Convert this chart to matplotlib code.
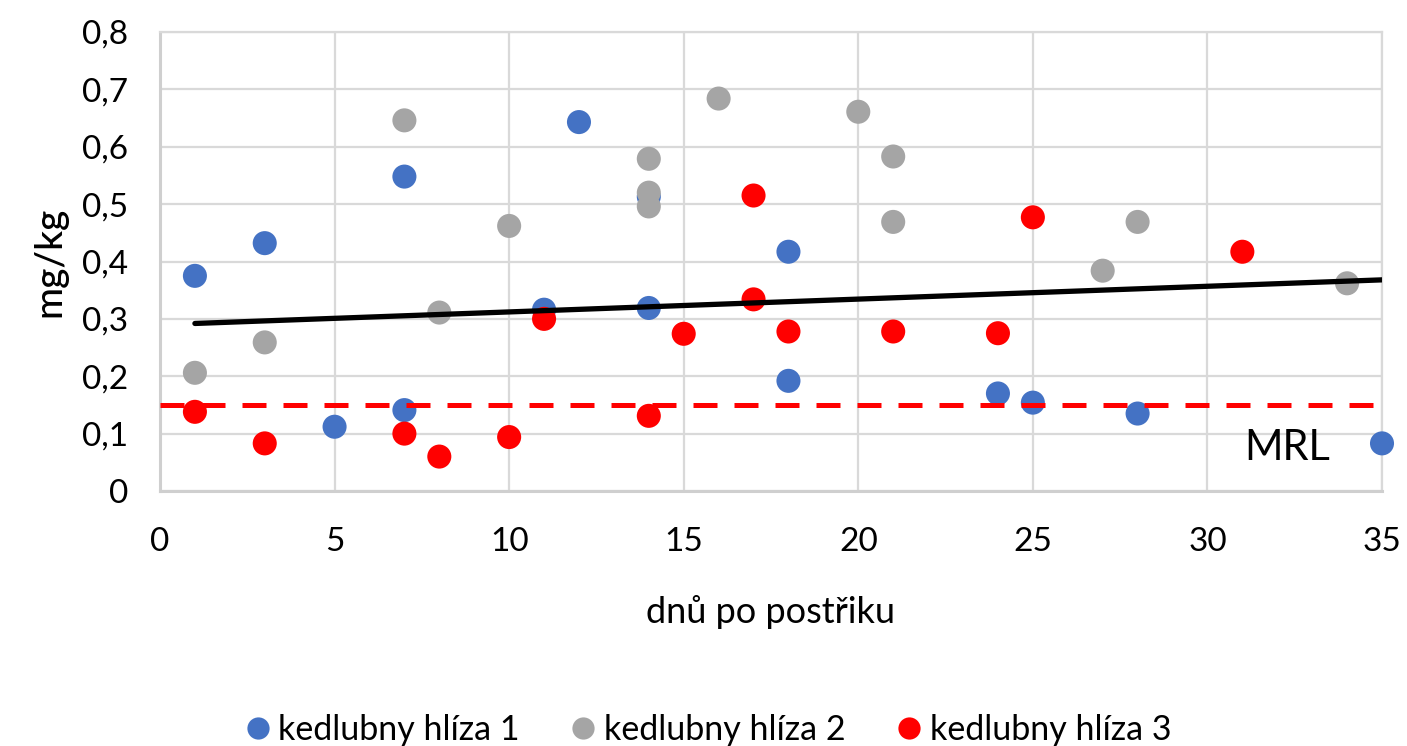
import matplotlib
matplotlib.use("Agg")
import matplotlib.pyplot as plt
from matplotlib.lines import Line2D

plt.rcParams['font.family'] = ['Lato', 'DejaVu Sans']

# Series 1 - kedlubny hlíza 1 (blue)
s1_x = [1, 3, 5, 7, 7, 11, 12, 14, 14, 18, 18, 24, 25, 28, 35]
s1_y = [0.375, 0.432, 0.112, 0.548, 0.141, 0.316, 0.643, 0.319, 0.513, 0.417, 0.192, 0.170, 0.154, 0.135, 0.083]

# Series 2 - kedlubny hlíza 2 (gray)
s2_x = [1, 3, 7, 8, 10, 14, 14, 14, 16, 20, 21, 21, 27, 28, 34]
s2_y = [0.206, 0.259, 0.646, 0.311, 0.462, 0.579, 0.520, 0.496, 0.684, 0.661, 0.583, 0.469, 0.384, 0.469, 0.362]

# Series 3 - kedlubny hlíza 3 (red)
s3_x = [1, 3, 7, 8, 10, 11, 14, 15, 17, 17, 18, 21, 24, 25, 31]
s3_y = [0.138, 0.083, 0.100, 0.060, 0.094, 0.300, 0.131, 0.274, 0.515, 0.334, 0.278, 0.278, 0.275, 0.477, 0.417]

series_names = ['kedlubny hlíza 1', 'kedlubny hlíza 2', 'kedlubny hlíza 3']
series_colors = ['#4472C4', '#A5A5A5', '#FF0000']

# Trend line endpoints
trend_x = [1, 35]
trend_y = [0.292, 0.368]

# MRL level
mrl_value = 0.15
mrl_x = [0, 35]

x_ticks = [0, 5, 10, 15, 20, 25, 30, 35]
y_ticks = [0, 0.1, 0.2, 0.3, 0.4, 0.5, 0.6, 0.7, 0.8]
y_tick_labels = ['0', '0,1', '0,2', '0,3', '0,4', '0,5', '0,6', '0,7', '0,8']

W, H = 1407, 746
fig = plt.figure(figsize=(W / 100, H / 100), dpi=100)
ax = fig.add_axes([160 / W, (H - 491) / H, 1222 / W, 459 / H])

grid_c = '#D9D9D9'
ax.set_xlim(0, 35)
ax.set_ylim(0, 0.8)
ax.set_xticks(x_ticks)
ax.set_yticks(y_ticks)
ax.set_yticklabels(y_tick_labels)
ax.grid(True, color=grid_c, lw=1.6, zorder=0)
ax.set_axisbelow(True)
for side in ['top', 'right']:
    ax.spines[side].set_color(grid_c)
    ax.spines[side].set_linewidth(1.6)
for side in ['left', 'bottom']:
    ax.spines[side].set_color('#CFCFCF')
    ax.spines[side].set_linewidth(2.2)
ax.tick_params(axis='both', length=0, labelsize=24, labelcolor='#000000')
ax.tick_params(axis='y', pad=23)
ax.tick_params(axis='x', pad=26)

for xs, ys, c, name in zip([s1_x, s2_x, s3_x], [s1_y, s2_y, s3_y], series_colors, series_names):
    ax.scatter(xs, ys, s=300, color=c, edgecolors='none', zorder=3, label=name, clip_on=False)

ax.plot(trend_x, trend_y, color='black', lw=3.8, zorder=5, solid_capstyle='round')
ax.plot(mrl_x, [mrl_value, mrl_value], color='#FF0000', lw=3.6, dashes=(4.8, 3.4),
        zorder=6, clip_on=False, dash_capstyle='butt')

ax.text(31.05, 0.075, 'MRL', fontsize=30, va='center', ha='left', color='#000000', zorder=7)

ax.set_xlabel('dnů po postřiku', fontsize=26, va='center')
ax.xaxis.set_label_coords(0.5, (491 - 612) / 459)
ax.set_ylabel('mg/kg', fontsize=28, fontweight='medium', va='center')
ax.yaxis.set_label_coords((50 - 160) / 1222, (491 - 262) / 459)

handles = [Line2D([0], [0], marker='o', linestyle='none', markersize=16,
                  markerfacecolor=c, markeredgecolor='none') for c in series_colors]
fig.legend(handles, series_names, loc='center', ncol=3, frameon=False,
           bbox_to_anchor=(706 / W, 1 - 730 / H), fontsize=24.5,
           handletextpad=0.1, columnspacing=1.37, handlelength=1.0)

fig.savefig('out.png', dpi=100)
